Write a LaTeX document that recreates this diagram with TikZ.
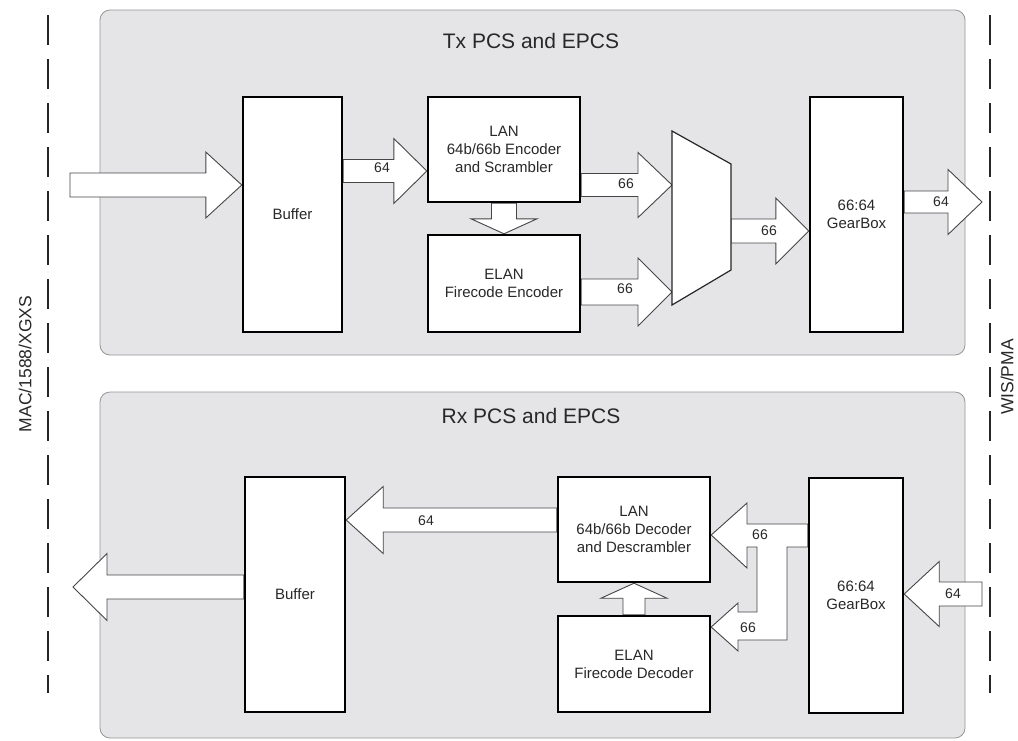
\documentclass[tikz,border=0pt]{standalone}
\usepackage{fontspec}
\setmainfont{Liberation Sans}
\usetikzlibrary{calc}
\pgfdeclarelayer{bg}
\pgfdeclarelayer{mid}
\pgfsetlayers{bg,mid,main}
\definecolor{panelgray}{RGB}{229,229,232}
\definecolor{panelline}{RGB}{150,150,150}
\definecolor{arrline}{RGB}{70,70,70}
\definecolor{txt}{RGB}{40,40,40}
\newcommand\harrow[5]{%
  \draw[blockar] let \p1=(#1), \p2=(#2) in
    ({\x1},{\y2+#3}) -- ({\x2-(#5)},{\y2+#3}) -- ({\x2-(#5)},{\y2+#4}) -- ({\x2},{\y2}) --
    ({\x2-(#5)},{\y2-#4}) -- ({\x2-(#5)},{\y2-#3}) -- ({\x1},{\y2-#3}) -- cycle;}
\newcommand\varrow[5]{%
  \draw[blockar] let \p1=(#1), \p2=(#2) in
    ({\x2+#3},{\y1}) -- ({\x2+#3},{\y2-(#5)}) -- ({\x2+#4},{\y2-(#5)}) -- ({\x2},{\y2}) --
    ({\x2-#4},{\y2-(#5)}) -- ({\x2-#3},{\y2-(#5)}) -- ({\x2-#3},{\y1}) -- cycle;}
\begin{document}
\begin{tikzpicture}[x=1pt,y=-1pt,
  panel/.style={draw=panelline, fill=panelgray, rounded corners=10pt, line width=0.8pt},
  blk/.style={draw=black, fill=white, line width=2.4pt, align=center, text=txt,
    font=\fontsize{15}{18}\selectfont, inner sep=0pt},
  blockar/.style={draw=arrline, fill=white, line width=0.9pt, line join=miter},
  muxs/.style={draw=black!85, fill=white, line width=1.2pt},
  lbl/.style={font=\fontsize{14}{15}\selectfont, inner sep=0pt, text=txt},
  ttl/.style={font=\fontsize{21}{23}\selectfont, inner sep=0pt, text=txt},
  side/.style={font=\fontsize{17.5}{20}\selectfont, rotate=90, inner sep=0pt, text=txt},
  sepline/.style={line width=1.2pt, draw=black!85, dash pattern=on 30pt off 14pt}]
\useasboundingbox (0,0) rectangle (1018,740);

% panels
\begin{pgfonlayer}{bg}
\fill[white] (0,0) rectangle (1018,740);
\draw[panel] (100,10) rectangle (965,355);
\draw[panel] (100,392) rectangle (965,738);
\draw[sepline] (48,15) -- (48,693);
\draw[sepline] (990,15) -- (990,693);
\end{pgfonlayer}

\node[side] (lside) at (25,364) {MAC/1588/XGXS};
\node[side] (rside) at (1007,377) {WIS/PMA};

% titles
\node[ttl] (ttx) at (531,41) {Tx PCS and EPCS};
\node[ttl] (trx) at (531,416) {Rx PCS and EPCS};

% Tx blocks
\node[blk, minimum width=99pt, minimum height=235pt] (buf1) at (292.5,214.5) {Buffer};
\node[blk, minimum width=152pt, minimum height=105pt] (lanE) at (504,149.5) {LAN\\64b/66b Encoder\\and Scrambler};
\node[blk, minimum width=152pt, minimum height=97pt] (elanE) at (504,283.5) {ELAN\\Firecode Encoder};
\node[blk, minimum width=93pt, minimum height=235pt] (gb1) at (856.5,214.5) {66:64\\GearBox};
\draw[muxs] (672,131) -- (731,164) -- (731,270) -- (672,305) -- cycle;
\coordinate (muxL) at (672,218);
\coordinate (muxR) at (731,217);
\coordinate (in1) at (70,185);
\coordinate (out1) at (982,202);

% Rx blocks
\node[blk, minimum width=100pt, minimum height=235pt] (buf2) at (295,594.5) {Buffer};
\node[blk, minimum width=152pt, minimum height=105pt] (lanD) at (634,529.5) {LAN\\64b/66b Decoder\\and Descrambler};
\node[blk, minimum width=152pt, minimum height=96pt] (elanD) at (634,664) {ELAN\\Firecode Decoder};
\node[blk, minimum width=94pt, minimum height=235pt] (gb2) at (856,595.5) {66:64\\GearBox};
\coordinate (out2) at (73,587);
\coordinate (in2) at (982,594);

% helper rows for arrow tips
\coordinate (r185) at (0,185);
\coordinate (r171) at (0,171);
\coordinate (r292) at (0,292);
\coordinate (r231) at (0,231);
\coordinate (r520) at (0,520);
\coordinate (r594) at (0,594);
\coordinate (r524) at (0,524);
\coordinate (r535) at (0,535);
\coordinate (r547) at (0,547);
\coordinate (r627) at (0,627);
\coordinate (t1) at (buf1.west |- r185);
\coordinate (t2) at (lanE.west |- r171);
\coordinate (t3) at (muxL |- r185);
\coordinate (t4) at (muxL |- r292);
\coordinate (t5) at (gb1.west |- r231);
\coordinate (t6) at (buf2.east |- r520);
\coordinate (t7) at (gb2.east |- r594);
\coordinate (f1) at (gb2.west |- r524);
\coordinate (f2) at (lanD.east |- r535);
\coordinate (f3) at (elanD.east |- r627);
\coordinate (f4) at (gb2.west |- r547);

\begin{pgfonlayer}{mid}
% Tx arrows
\harrow{in1}{t1}{12pt}{33pt}{36pt}
\harrow{buf1.east}{t2}{11.5pt}{32.5pt}{33pt}
\harrow{lanE.east}{t3}{11.5pt}{32.5pt}{34pt}
\harrow{elanE.east}{t4}{13pt}{34pt}{34pt}
\harrow{muxR}{t5}{12pt}{33pt}{33pt}
\harrow{gb1.east}{out1}{11pt}{32.5pt}{34pt}
\varrow{lanE.south}{elanE.north}{12.5pt}{33pt}{-15pt}
% Rx arrows
\harrow{buf2.west}{out2}{12pt}{33.5pt}{-34pt}
\harrow{lanD.west}{t6}{12pt}{33.5pt}{-37pt}
\harrow{in2}{t7}{12pt}{32.5pt}{-35pt}
\varrow{elanD.north}{lanD.south}{11pt}{33pt}{15pt}
% fork from GearBox to decoders
\draw[blockar] (f1) -- (747,524) -- (747,503) -- (f2)
  -- (747,568) -- (747,547) -- (757,547) -- (757,612) -- (738,612) -- (738,603)
  -- (f3) -- (738,651) -- (738,640) -- (787,640) -- (787,547)
  -- (f4) -- cycle;
\end{pgfonlayer}

% labels
\node[lbl] (l1) at (382,168) {64};
\node[lbl] (l2) at (626,184) {66};
\node[lbl] (l3) at (625,289) {66};
\node[lbl] (l4) at (769,231) {66};
\node[lbl] (l5) at (941,202) {64};
\node[lbl] (l6) at (426,521) {64};
\node[lbl] (l7) at (760,535) {66};
\node[lbl] (l8) at (748,628) {66};
\node[lbl] (l9) at (953,594) {64};
\end{tikzpicture}
\end{document}
